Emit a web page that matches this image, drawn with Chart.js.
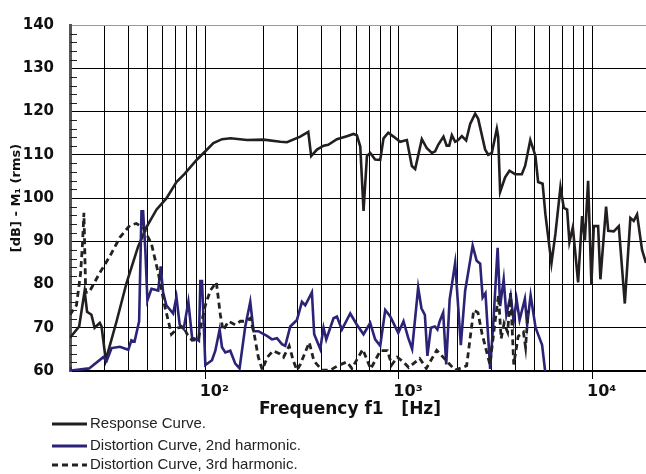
<!DOCTYPE html>
<html>
<head>
<meta charset="utf-8">
<script src="https://cdn.jsdelivr.net/npm/chart.js@4.4.1/dist/chart.umd.min.js"></script>
<style>
  html, body { margin: 0; padding: 0; background: #fff; }
  #wrap { width: 646px; height: 474px; }
</style>
</head>
<body>
<div id="wrap"><canvas id="freqChart" width="646" height="474"></canvas></div>
<script>
// response curve (Hz / dB)
const responseFreq = [20, 22.3, 23.8, 24.5, 25.8, 26.8, 28.5, 29.1, 30.6, 34.8, 39.2, 44.9, 49.6, 55.9, 62.9, 70.9, 77.9, 90.6, 100, 110, 122, 135, 164, 200, 244, 264, 309, 340, 352, 377, 408, 431, 478, 538, 582, 606, 631, 656, 683, 710, 753, 800, 832, 880, 937, 1014, 1098, 1165, 1212, 1312, 1393, 1478, 1537, 1594, 1697, 1762, 1817, 1875, 1950, 2022, 2111, 2222, 2331, 2473, 2564, 2785, 2888, 3015, 3201, 3252, 3329, 3532, 3718, 3978, 4307, 4480, 4765, 4945, 5064, 5230, 5516, 5703, 6127, 6423, 6819, 7098, 7383, 7587, 7901, 8414, 8821, 9114, 9476, 9856, 10138, 10671, 10966, 11733, 12039, 12858, 13645, 14660, 15660, 16306, 16962, 17995, 18860];
const responseDb = [67.7, 70.3, 78.5, 73.7, 73.0, 70.0, 71.1, 70.3, 62.5, 71.5, 80.4, 88.7, 93.2, 97.3, 99.9, 103.7, 105.5, 108.9, 110.8, 112.7, 113.6, 113.8, 113.4, 113.5, 113.0, 112.9, 114.2, 115.3, 109.7, 111.2, 112.1, 112.3, 113.6, 114.3, 114.8, 114.5, 111.9, 97.0, 109.7, 110.4, 108.9, 108.8, 113.8, 115.1, 114.2, 113.0, 113.4, 107.4, 106.7, 113.6, 111.5, 110.4, 110.8, 112.3, 114.2, 112.1, 112.1, 114.5, 113.0, 113.4, 114.3, 113.3, 117.1, 119.5, 118.3, 111.2, 110.0, 110.4, 116.0, 114.2, 101.4, 104.8, 106.3, 105.5, 105.5, 107.4, 113.4, 111.2, 109.7, 103.7, 103.3, 96.2, 84.9, 91.7, 102.5, 97.7, 97.3, 89.8, 93.2, 80.5, 95.8, 90.2, 104.0, 80.1, 93.5, 93.5, 81.2, 98.0, 92.4, 92.3, 93.5, 75.6, 95.4, 94.7, 96.2, 88.0, 85.0];

// 2nd harmonic distortion
const h2Freq = [20, 20.3, 25.1, 29.7, 30.9, 32.8, 36.2, 40.0, 41.5, 43.1, 45.5, 46.8, 47.7, 49.0, 50.2, 52.7, 57.1, 58.8, 60.5, 62.9, 68.2, 70.9, 73.7, 77.3, 81.7, 85.4, 90.6, 92.6, 94.2, 96.1, 100, 108.2, 112.6, 118.5, 121.9, 126.8, 134.5, 142.7, 150.2, 160.7, 170.6, 177.4, 187.7, 208, 220.7, 234.4, 248.6, 258.6, 274.4, 297.2, 315.3, 328, 355, 364.8, 392, 407.7, 421, 459, 478, 507, 560, 606, 656, 710, 753, 800, 849, 901, 991, 1055, 1115, 1169, 1256, 1306, 1360, 1402, 1461, 1532, 1579, 1623, 1691, 1753, 1826, 1950, 2086, 2195, 2401, 2518, 2625, 2704, 2796, 2956, 3074, 3231, 3329, 3472, 3585, 3771, 3910, 4049, 4195, 4467, 4589, 4784, 5074, 5484, 5751];
const h2Db = [61.0, 60.1, 60.6, 63.2, 62.3, 65.3, 65.6, 64.9, 67.1, 66.8, 71.5, 96.9, 96.9, 87.9, 76.3, 79.0, 78.6, 84.2, 78.2, 75.2, 73.3, 77.1, 70.7, 69.7, 76.0, 67.7, 67.3, 67.0, 80.8, 80.8, 61.4, 62.5, 64.7, 69.6, 65.5, 64.3, 64.7, 61.7, 60.6, 70.3, 76.0, 69.2, 69.2, 68.1, 67.3, 67.6, 66.2, 65.8, 70.3, 71.8, 76.0, 75.2, 78.2, 68.5, 65.1, 70.0, 67.3, 72.2, 72.6, 69.6, 73.3, 70.7, 68.5, 71.1, 67.3, 65.8, 74.1, 72.6, 68.8, 71.5, 67.7, 65.1, 79.3, 74.5, 73.0, 63.5, 70.0, 70.3, 69.6, 71.5, 73.5, 61.5, 76.5, 85.0, 66.0, 78.5, 89.0, 85.5, 84.8, 77.0, 78.0, 60.5, 71.5, 88.5, 75.0, 81.2, 73.0, 77.5, 71.5, 76.5, 71.8, 76.7, 70.7, 77.5, 70.0, 66.0, 58.0];

// 3rd harmonic distortion
const h3Freq = [20, 21.6, 22.7, 23.2, 23.6, 23.8, 24.1, 25.1, 28.5, 32.1, 36.2, 40.8, 44.0, 47.7, 52.7, 57.1, 61.6, 66.8, 72.3, 77.3, 80.5, 85.4, 92.1, 95.0, 100, 106.1, 114, 119.5, 123.4, 131.8, 142.7, 151.5, 160.7, 170.6, 178.8, 187.7, 196.7, 209, 224, 241.7, 253.4, 271, 284, 297.2, 309, 344, 363.8, 401, 441.5, 486, 538, 571, 650, 714, 802, 872, 917, 979, 1055, 1122, 1279, 1384, 1565, 1722, 1950, 2235, 2431, 2557, 2688, 2948, 3145, 3263, 3369, 3489, 3639, 3771, 3914, 4124, 4391, 4505, 4644];
const h3Db = [73.0, 75.2, 82.7, 89.4, 96.6, 89.4, 78.2, 78.2, 82.7, 86.5, 90.9, 93.7, 94.1, 93.2, 89.4, 82.7, 75.2, 68.5, 70.0, 70.2, 68.5, 67.1, 67.3, 70.7, 75.2, 78.6, 80.5, 73.0, 69.4, 71.5, 70.7, 71.5, 71.5, 72.2, 68.5, 63.2, 60.3, 63.2, 64.7, 64.0, 63.2, 65.8, 62.5, 60.2, 61.5, 66.6, 62.3, 60.2, 60.2, 61.3, 62.1, 60.6, 65.0, 60.5, 64.7, 64.7, 61.4, 63.2, 62.1, 60.8, 62.9, 60.6, 64.8, 62.8, 60.2, 61.2, 74.1, 73.5, 68.5, 61.5, 72.0, 77.5, 67.5, 71.0, 69.0, 78.0, 61.5, 68.0, 69.0, 65.5, 74.0];

const seriesLabels = ['Response Curve.', 'Distortion Curve, 2nd harmonic.', 'Distortion Curve, 3rd harmonic.'];
const gridFreqs = [20, 30, 40, 50, 60, 70, 80, 90, 100, 200, 300, 400, 500, 600, 700, 800, 900, 1000, 2000, 3000, 4000, 5000, 6000, 7000, 8000, 9000, 10000];
const decadeLabels = { 100: '10²', 1000: '10³', 10000: '10⁴' };

const toPoints = (fs, ds) => fs.map((f, i) => ({ x: f, y: ds[i] }));

Chart.defaults.font.family = '"Liberation Sans", Arial, sans-serif';
Chart.defaults.color = '#111';

const extras = {
  id: 'extras',
  beforeDatasetsDraw(chart) {
    const { ctx, chartArea } = chart;
    const y = chart.scales.y;
    ctx.save();
    ctx.strokeStyle = '#222';
    ctx.lineWidth = 1;
    for (let v = 62; v < 140; v += 2) {
      if (v % 10 === 0) continue;
      const py = Math.round(y.getPixelForValue(v)) + 0.5;
      ctx.beginPath();
      ctx.moveTo(chartArea.left, py);
      ctx.lineTo(chartArea.left + 7, py);
      ctx.stroke();
    }
    ctx.restore();
  },
  afterDraw(chart) {
    const { ctx } = chart;
    ctx.save();
    // x title
    ctx.fillStyle = '#111';
    ctx.font = 'bold 17px "DejaVu Sans", sans-serif';
    ctx.textAlign = 'center';
    ctx.textBaseline = 'middle';
    ctx.fillText('Frequency f1   [Hz]', 350, 410);
    // legend
    const rows = [424, 446, 465];
    ctx.textAlign = 'left';
    ctx.font = '15px "Liberation Sans", Arial, sans-serif';
    chart.data.datasets.forEach((ds, i) => {
      ctx.strokeStyle = ds.borderColor;
      ctx.lineWidth = 3;
      ctx.setLineDash(ds.borderDash || []);
      ctx.beginPath();
      ctx.moveTo(52, rows[i]);
      ctx.lineTo(87, rows[i]);
      ctx.stroke();
      ctx.fillStyle = '#222';
      ctx.fillText(ds.label, 90, rows[i]);
    });
    ctx.restore();
  }
};

new Chart(document.getElementById('freqChart'), {
  type: 'line',
  data: {
    datasets: [
      {
        label: seriesLabels[0],
        data: toPoints(responseFreq, responseDb),
        borderColor: '#231f20',
        borderWidth: 2.6,
        order: 3
      },
      {
        label: seriesLabels[1],
        data: toPoints(h2Freq, h2Db),
        borderColor: '#2a2377',
        borderWidth: 2.6,
        order: 2
      },
      {
        label: seriesLabels[2],
        data: toPoints(h3Freq, h3Db),
        borderColor: '#222',
        borderWidth: 2.8,
        borderDash: [6, 4],
        order: 1
      }
    ]
  },
  options: {
    responsive: false,
    animation: false,
    events: [],
    layout: { padding: { top: 15, right: 0, bottom: 0, left: 0 } },
    elements: {
      point: { radius: 0 },
      line: { tension: 0, fill: false }
    },
    plugins: {
      legend: { display: false },
      tooltip: { enabled: false },
      title: { display: false }
    },
    scales: {
      x: {
        type: 'logarithmic',
        min: 20,
        max: 18860,
        afterBuildTicks: (scale) => {
          scale.ticks = gridFreqs.map(v => ({ value: v }));
        },
        afterFit: (scale) => { scale.height = 103; },
        border: { color: '#000', width: 1.5 },
        grid: {
          color: '#000',
          lineWidth: 1,
          drawTicks: true,
          tickLength: 8,
          tickColor: (c) => decadeLabels[c.tick && c.tick.value] ? '#000' : 'rgba(0,0,0,0)'
        },
        ticks: {
          autoSkip: false,
          maxRotation: 0,
          padding: 3,
          labelOffset: 9,
          color: '#111',
          font: { family: '"DejaVu Sans", sans-serif', size: 16, weight: 'bold' },
          callback: (value) => decadeLabels[value] || ''
        }
      },
      y: {
        min: 60,
        max: 140,
        afterFit: (scale) => { scale.width = 70; },
        border: { color: '#555', width: 3 },
        grid: {
          drawTicks: false,
          lineWidth: 1,
          color: (c) => c.tick && c.tick.value === 140 ? '#9a9a9a' : '#000'
        },
        ticks: {
          stepSize: 10,
          padding: 16,
          color: '#111',
          font: { family: '"DejaVu Sans", sans-serif', size: 15, weight: 'bold' }
        },
        title: {
          display: true,
          text: '[dB] - M₁ (rms)',
          color: '#111',
          padding: { top: 9, bottom: 0 },
          font: { family: '"DejaVu Sans", sans-serif', size: 13, weight: 'bold' }
        }
      }
    }
  },
  plugins: [extras]
});
</script>
</body>
</html>
